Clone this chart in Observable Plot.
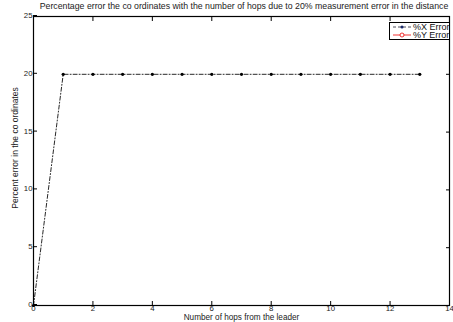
<!DOCTYPE html>
<html>
<head>
<meta charset="utf-8">
<script src="https://cdn.jsdelivr.net/npm/d3@7"></script>
<script src="https://cdn.jsdelivr.net/npm/@observablehq/plot@0.6"></script>
<style>
  html, body { margin: 0; padding: 0; background: #fff; }
  #wrap { position: relative; width: 453px; height: 322px; font-family: "Liberation Sans", Arial, sans-serif; }
  #title { position: absolute; left: 0; width: 453px; top: 1px; text-align: center; font-size: 8.75px; color: #222; padding-left: 35px; box-sizing: border-box; white-space: nowrap; }
  #ylabel { position: absolute; left: 15px; top: 148px; transform: translate(-50%, -50%) rotate(-90deg); font-size: 8.5px; color: #222; white-space: nowrap; }
  #legend { position: absolute; left: 389px; top: 22px; width: 59px; height: 16px; border: 1px solid #000; background: #fff; overflow: hidden; font-size: 9px; color: #111; }
  .row { position: relative; height: 8px; line-height: 8px; white-space: nowrap; }
  .row svg { position: absolute; left: 2px; top: 0; }
  .row span { position: absolute; left: 23px; top: 0px; }
</style>
</head>
<body>
<div id="wrap">
  <div id="plot"></div>
  <div id="title">Percentage error the co ordinates with the number of hops due to 20% measurement error in the distance</div>
  <div id="ylabel">Percent error in the co ordinates</div>
  <div id="legend">
    <div class="row"><svg width="20" height="8"><line x1="1" y1="4" x2="19" y2="4" stroke="#223" stroke-dasharray="3,2" stroke-width="0.8"/><circle cx="10" cy="4" r="1.5" fill="#1a2a6a"/></svg><span>%X Error</span></div>
    <div class="row"><svg width="20" height="8"><line x1="1" y1="4" x2="19" y2="4" stroke="#e00" stroke-width="0.8"/><circle cx="10" cy="4" r="2" fill="#fff" stroke="#e00" stroke-width="0.8"/></svg><span>%Y Error</span></div>
  </div>
</div>
<script>
const hops = [0, 1, 2, 3, 4, 5, 6, 7, 8, 9, 10, 11, 12, 13];
const xError = [0, 20, 20, 20, 20, 20, 20, 20, 20, 20, 20, 20, 20, 20];
const yError = [0, 20, 20, 20, 20, 20, 20, 20, 20, 20, 20, 20, 20, 20];
const xTicks = [0, 2, 4, 6, 8, 10, 12, 14];
const yTicks = [0, 5, 10, 15, 20, 25];

const data = hops.map((h, i) => ({hops: h, x: xError[i], y: yError[i]}));

const chart = Plot.plot({
  width: 453,
  height: 322,
  marginLeft: 33,
  marginRight: 4,
  marginTop: 16,
  marginBottom: 17,
  style: {fontFamily: "Liberation Sans, Arial, sans-serif", fontSize: "7.8px", color: "#222", background: "transparent"},
  x: {domain: [0, 14]},
  y: {domain: [0, 25]},
  marks: [
    Plot.axisX({ticks: xTicks, tickSize: -4, tickPadding: 4, tickFormat: d => d, label: null, stroke: "#000"}),
    Plot.axisX({ticks: xTicks, anchor: "top", tickSize: -4, tickFormat: () => "", label: null, stroke: "#000"}),
    Plot.axisY({ticks: yTicks, tickSize: -4, tickPadding: 5, tickFormat: d => d, label: null, stroke: "#000", dy: -1}),
    Plot.axisY({ticks: yTicks, anchor: "right", tickSize: -4, tickFormat: () => "", label: null, stroke: "#000"}),
    Plot.frame({stroke: "#000", strokeWidth: 1.2}),
    Plot.line(data, {x: "hops", y: "x", stroke: "#000", strokeWidth: 0.85, strokeDasharray: "4,2,1,2"}),
    Plot.dot(data, {x: "hops", y: "x", r: 1.6, fill: "#000", stroke: "none"}),
    Plot.text(["Number of hops from the leader"], {frameAnchor: "bottom", lineAnchor: "top", dy: 9, fontSize: 8.2, fill: "#222"})
  ]
});
document.getElementById("plot").appendChild(chart);
</script>
</body>
</html>
